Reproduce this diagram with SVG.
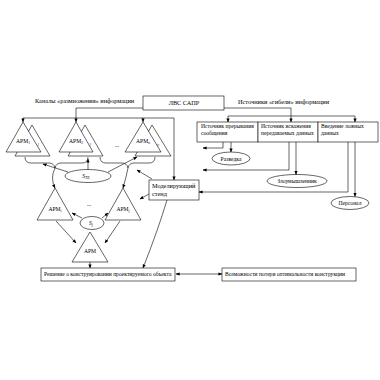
<svg xmlns="http://www.w3.org/2000/svg" width="380" height="380" viewBox="0 0 380 380">
<defs>
<marker id="ar" viewBox="0 0 10 10" refX="9" refY="5" markerWidth="4" markerHeight="4" orient="auto-start-reverse" markerUnits="userSpaceOnUse">
<path d="M0,1 L10,5 L0,9 z" fill="#000"/>
</marker>
<style>
.s{fill:none;stroke:#000;stroke-width:0.6}
.b{fill:#fff;stroke:#000;stroke-width:0.6}
.a{fill:none;stroke:#000;stroke-width:0.6;marker-end:url(#ar)}
text{font-family:"Liberation Serif","Times New Roman",serif;fill:#000}
.t{font-size:5.6px}
.m{font-size:6.3px}
.c{text-anchor:middle}
.bl{font-size:4.5px;fill:#3355cc;font-style:italic}
</style>
</defs>
<rect width="380" height="380" fill="#fff"/>

<text class="m" x="35" y="103">Каналы «размножения» информации</text>
<text class="m" x="238" y="104">Источники «гибели» информации</text>

<g id="lvs"><rect class="b" x="143" y="96" width="81" height="14"/><text class="m c" x="184" y="105">ЛВС САПР</text></g>

<g id="arm-top-1">
<polygon class="b" points="32,125 15,156 50,156"/>
<text class="bl" x="37" y="146">1</text>
<polygon class="b" points="23,122 6,152 41,152"/>
<text class="t c" x="23" y="143">АРМ<tspan font-size="3.5" dy="1">1</tspan></text>
</g>
<g id="arm-top-2">
<polygon class="b" points="85,125 68,156 103,156"/>
<text class="bl" x="89" y="146">2</text>
<polygon class="b" points="76,122 59,152 93,152"/>
<text class="t c" x="76" y="143">АРМ<tspan font-size="3.5" dy="1">2</tspan></text>
</g>
<text class="t c" x="117" y="147">...</text>
<g id="arm-top-n">
<polygon class="b" points="152,125 135,156 171,156"/>
<text class="bl" x="157" y="146">n</text>
<polygon class="b" points="143,122 125,152 161,152"/>
<text class="t c" x="143" y="143">АРМ<tspan font-size="3.5" dy="1">n</tspan></text>
</g>

<g id="ste"><ellipse class="b" cx="88" cy="176" rx="23" ry="6.5"/><text class="t c" x="86" y="178" font-style="italic">S<tspan font-size="4" dy="1">TE</tspan></text></g>

<g id="model"><rect class="b" x="149" y="180" width="50" height="20"/><text class="m" x="152" y="188">Моделирующий</text><text class="m" x="152" y="196">стенд</text></g>

<g id="arm-1"><polygon class="b" points="55,188 37,220 73,220"/><text class="t c" x="55" y="211">АРМ<tspan font-size="3.5" dy="1">i</tspan></text></g>
<text class="t c" x="89" y="206">...</text>
<g id="arm-2"><polygon class="b" points="123,188 105,220 141,220"/><text class="t c" x="123" y="211">АРМ<tspan font-size="3.5" dy="1">j</tspan></text></g>
<g id="sj"><ellipse class="b" cx="92" cy="223" rx="12" ry="6.5"/><text class="t c" x="91" y="225" font-style="italic">S<tspan font-size="4" dy="1">j</tspan></text></g>
<g id="arm"><polygon class="b" points="90,232 72,262 108,262"/><text class="t c" x="90" y="253">АРМ</text></g>

<g id="src1"><rect class="b" x="197" y="122" width="61" height="20"/><text class="t" x="201" y="128">Источник прерывания</text><text class="t" x="201" y="135">сообщения</text></g>
<g id="src2"><rect class="b" x="258" y="122" width="60" height="20"/><text class="t" x="261" y="128">Источник искажения</text><text class="t" x="261" y="135">передаваемых данных</text></g>
<g id="src3"><rect class="b" x="318" y="122" width="60" height="20"/><text class="t" x="321" y="128">Введение ложных</text><text class="t" x="321" y="135">данных</text></g>

<g id="razv"><ellipse class="b" cx="231" cy="158.5" rx="19" ry="6.5"/><text class="t c" x="231" y="160.5">Разведка</text></g>
<g id="zlo"><ellipse class="b" cx="297" cy="181" rx="30" ry="6.5"/><text class="t c" x="297" y="183">Злоумышленник</text></g>
<g id="pers"><ellipse class="b" cx="350" cy="203" rx="19" ry="6.5"/><text class="t c" x="350" y="205">Персонал</text></g>

<g id="res"><rect class="b" x="41" y="268" width="134" height="13"/><text class="t" x="44" y="276">Решение о конструировании проектируемого объекта</text></g>
<g id="poss"><rect class="b" x="222" y="268" width="134" height="13"/><text class="t" x="225" y="276">Возможности потери оптимальности конструкции</text></g>

<g id="connectors">
<polyline class="s" points="143,108 76,108 76,118"/>
<line class="s" x1="23" y1="118" x2="174" y2="118"/>
<line class="a" x1="23" y1="118" x2="23" y2="122"/>
<line class="a" x1="76" y1="118" x2="76" y2="122"/>
<line class="a" x1="143" y1="118" x2="143" y2="122"/>
<line class="a" x1="174" y1="118" x2="174" y2="180"/>

<polyline class="s" points="224,108 291,108 291,116"/>
<line class="s" x1="228" y1="116" x2="355" y2="116"/>
<line class="a" x1="228" y1="116" x2="228" y2="122"/>
<line class="a" x1="291" y1="116" x2="291" y2="122"/>
<line class="a" x1="355" y1="116" x2="355" y2="122"/>

<polyline class="a" points="223,142 223,148 203,148"/>
<line class="a" x1="231" y1="142" x2="231" y2="152"/>
<polyline class="a" points="289,142 289,170 203,170"/>
<line class="a" x1="296" y1="142" x2="296" y2="174.5"/>
<polyline class="a" points="348,142 348,192 199,192"/>
<line class="a" x1="355" y1="142" x2="355" y2="196.5"/>

<path class="s" d="M25,157 Q25,163 31,163 L49,163 Q54,163 55,168 Q56,163 61,163 L82,163 Q88,163 88,157"/>
<path class="s" d="M100,157 Q100,163 106,163 L122,163 Q127,163 128,168 Q129,163 134,163 L149,163 Q155,163 155,157"/>
<path class="a" d="M55,168 Q50,178 55,188"/>
<path class="a" d="M128,168 Q126,178 123,188"/>
<line class="a" x1="68" y1="172" x2="43" y2="164"/>
<line class="a" x1="88" y1="169.5" x2="88" y2="159"/>
<line class="a" x1="108" y1="172" x2="137" y2="157"/>

<line class="a" x1="152" y1="179" x2="137" y2="170"/>
<line class="a" x1="149" y1="194" x2="140" y2="199"/>
<path class="a" d="M167,200 Q158,230 143,268"/>

<line class="a" x1="82" y1="218" x2="72" y2="213"/>
<line class="a" x1="102" y1="218" x2="108" y2="213"/>
<line class="a" x1="56" y1="221" x2="76" y2="243"/>
<line class="a" x1="120" y1="221" x2="105" y2="243"/>
<line class="a" x1="90" y1="262" x2="90" y2="268"/>

<line class="a" x1="176" y1="274" x2="222" y2="274" style="marker-start:url(#ar)"/>
</g>
</svg>
